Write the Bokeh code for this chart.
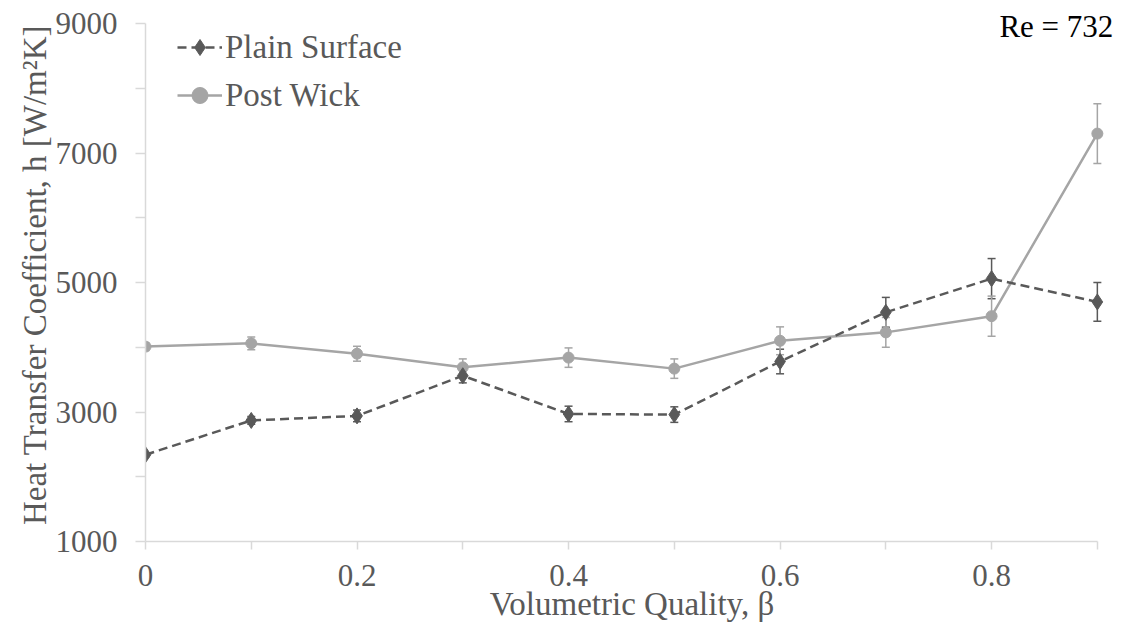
from bokeh.plotting import figure
from bokeh.models import (ColumnDataSource, Whisker, TeeHead, FixedTicker, Label,
                          Legend, LegendItem, Range1d)
from bokeh.embed import file_html
from bokeh.resources import INLINE

# Volumetric quality and heat transfer coefficient data
beta = [0.0, 0.1, 0.2, 0.3, 0.4, 0.5, 0.6, 0.7, 0.8, 0.9]
plain_h = [2340, 2870, 2940, 3560, 2970, 2960, 3780, 4540, 5060, 4700]
plain_err = [30, 60, 90, 110, 120, 120, 190, 230, 310, 300]
wick_h = [4010, 4060, 3900, 3690, 3840, 3670, 4100, 4230, 4480, 7300]
wick_err = [60, 100, 115, 130, 150, 150, 215, 230, 310, 460]

y_major = [1000, 3000, 5000, 7000, 9000]
y_minor = [2000, 4000, 6000, 8000]
x_major = [0, 0.2, 0.4, 0.6, 0.8]
x_minor = [0.1, 0.3, 0.5, 0.7, 0.9]

PLAIN = "#595959"
WICK = "#A5A5A5"
TEXT = "#595959"
AXIS = "#D9D9D9"
FONT = "Liberation Serif"

plain_src = ColumnDataSource(dict(
    x=beta, y=plain_h,
    lo=[v - e for v, e in zip(plain_h, plain_err)],
    hi=[v + e for v, e in zip(plain_h, plain_err)]))
wick_src = ColumnDataSource(dict(
    x=beta, y=wick_h,
    lo=[v - e for v, e in zip(wick_h, wick_err)],
    hi=[v + e for v, e in zip(wick_h, wick_err)]))

# The frame runs a little past 0.9 and 9000 so the Reynolds-number note fits;
# the axes themselves stop at 0.9 and 9000
p = figure(width=1126, height=643, output_backend="svg", toolbar_location=None,
           x_range=Range1d(0, 0.92), y_range=Range1d(1000, 9232),
           min_border_left=145, min_border_right=8, min_border_top=8,
           min_border_bottom=102, outline_line_color=None)
p.frame_width = 973
p.frame_height = 533
p.xgrid.visible = False
p.ygrid.visible = False

# Error bars
for src, col in ((plain_src, PLAIN), (wick_src, WICK)):
    w = Whisker(source=src, base="x", lower="lo", upper="hi",
                line_color=col, line_width=1.5,
                upper_head=TeeHead(size=8, line_color=col, line_width=1.5),
                lower_head=TeeHead(size=8, line_color=col, line_width=1.5))
    p.add_layout(w)

wl = p.line("x", "y", source=wick_src, line_color=WICK, line_width=2.5)
wm = p.scatter("x", "y", source=wick_src, marker="circle", size=11,
               fill_color=WICK, line_color=WICK)
pl = p.line("x", "y", source=plain_src, line_color=PLAIN, line_width=2.5,
            line_dash="9 5")
pm = p.scatter("x", "y", source=plain_src, marker="diamond", size=16,
               fill_color=PLAIN, line_color=PLAIN)

legend = Legend(items=[LegendItem(label="Plain Surface", renderers=[pl, pm]),
                       LegendItem(label="Post Wick", renderers=[wl, wm])],
                location=(32, 426), border_line_color=None,
                background_fill_alpha=0, margin=0, padding=4,
                glyph_width=45, glyph_height=40, spacing=8, label_standoff=3,
                label_text_font=FONT, label_text_font_size="33px",
                label_text_color=TEXT, label_height=40)
p.add_layout(legend)

# Axes
p.xaxis.ticker = FixedTicker(ticks=x_major, minor_ticks=x_minor)
p.yaxis.ticker = FixedTicker(ticks=y_major, minor_ticks=y_minor)
p.xaxis.bounds = (0, 0.9)
p.yaxis.bounds = (1000, 9000)
for ax in (p.xaxis[0], p.yaxis[0]):
    ax.axis_line_color = AXIS
    ax.axis_line_width = 1.5
    ax.major_tick_line_color = AXIS
    ax.minor_tick_line_color = AXIS
    ax.major_tick_line_width = 1.5
    ax.minor_tick_line_width = 1.5
    ax.major_tick_in = 0
    ax.minor_tick_in = 0
    ax.major_label_text_font = FONT
    ax.major_label_text_font_size = "31px"
    ax.major_label_text_color = TEXT
    ax.axis_label_text_font = FONT
    ax.axis_label_text_font_size = "33px"
    ax.axis_label_text_color = TEXT
    ax.axis_label_text_font_style = "normal"

p.xaxis.major_tick_out = 8
p.xaxis.minor_tick_out = 8
p.yaxis.major_tick_out = 10
p.yaxis.minor_tick_out = 10

p.xaxis.axis_label = "Volumetric Quality, β"
p.yaxis.axis_label = "Heat Transfer Coefficient, h [W/m²K]"
p.xaxis.major_label_standoff = 15
p.yaxis.major_label_standoff = 18
p.xaxis.axis_label_standoff = -3
p.yaxis.axis_label_standoff = 0
p.xaxis.major_label_overrides = {0: "0"}

p.add_layout(Label(x=0.9, y=9000, text="Re = 732", text_align="right",
                   text_baseline="alphabetic", x_offset=16, y_offset=-3,
                   text_font=FONT, text_font_size="31px", text_color="#000000"))

open("out.html", "w").write(file_html(p, INLINE))
